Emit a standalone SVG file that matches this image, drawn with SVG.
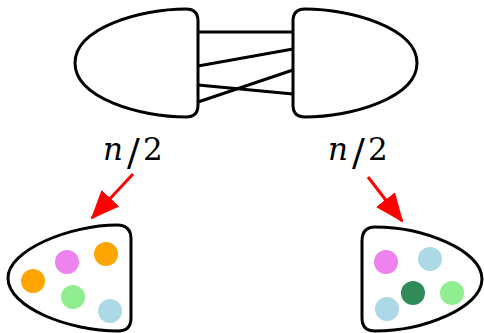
<svg xmlns="http://www.w3.org/2000/svg" width="484" height="333" viewBox="0 0 484 333">
<style>
.blob{fill:#fff;stroke:#000;stroke-width:3;stroke-linejoin:round}
.edge{stroke:#000;stroke-width:3;fill:none}
.arr{stroke:#ff0000;stroke-width:3;fill:none}
.lbl{font-family:'DejaVu Serif',serif;font-size:31px;fill:#000}
.it{font-style:italic}
.sl{font-size:38px}
</style>
<defs>
<marker id="ah" viewBox="0 0 29 24" refX="27" refY="12" markerWidth="29" markerHeight="24" markerUnits="userSpaceOnUse" orient="auto">
<path d="M0 0 L29 12 L0 24 Z" fill="#ff0000"/>
</marker>
</defs>
<g id="top-left">
<path class="blob" d="M198 21 L198 105 Q198 117 186 117 C140 117 75 98 75 63 C75 28 140 9 186 9 Q198 9 198 21 Z"/>
</g>
<g id="top-right">
<path class="blob" d="M293 21 L293 105 Q293 117 305 117 C351 117 417 98 417 63 C417 28 351 9 305 9 Q293 9 293 21 Z"/>
</g>
<g id="connectors">
<line class="edge" x1="198" y1="32" x2="293" y2="32"/>
<line class="edge" x1="198" y1="66" x2="293" y2="49"/>
<line class="edge" x1="198" y1="85" x2="293" y2="94"/>
<line class="edge" x1="198" y1="102" x2="293" y2="70"/>
<line class="arr" x1="133" y1="174" x2="92" y2="218" marker-end="url(#ah)"/>
<line class="arr" x1="368" y1="177" x2="402" y2="221" marker-end="url(#ah)"/>
</g>
<g id="label-left">
<text class="lbl" y="160"><tspan class="it" x="103">n</tspan><tspan class="sl" x="127" dy="5">/</tspan><tspan x="143" dy="-5">2</tspan></text>
</g>
<g id="label-right">
<text class="lbl" y="160"><tspan class="it" x="328">n</tspan><tspan class="sl" x="352" dy="5">/</tspan><tspan x="368" dy="-5">2</tspan></text>
</g>
<g id="bottom-left">
<path class="blob" d="M131 239 L131 318 Q131 331 118 331 C70 331 8 308 8 278 C8 250 70 225 117 225 Q131 225 131 239 Z"/>
<circle cx="33" cy="281" r="12" fill="#FFA500"/>
<circle cx="67" cy="262" r="12" fill="#EE82EE"/>
<circle cx="106" cy="254" r="12" fill="#FFA500"/>
<circle cx="73" cy="297" r="12" fill="#90EE90"/>
<circle cx="110" cy="311" r="12" fill="#ADD8E6"/>
</g>
<g id="bottom-right">
<path class="blob" d="M362 241 L362 318 Q362 331 375 331 C423 331 482 308 482 279 C482 250 423 227 375 227 Q362 227 362 241 Z"/>
<circle cx="386" cy="262" r="12" fill="#EE82EE"/>
<circle cx="430" cy="259" r="12" fill="#ADD8E6"/>
<circle cx="413" cy="293" r="12" fill="#2E8B57"/>
<circle cx="452" cy="293" r="12" fill="#90EE90"/>
<circle cx="387" cy="309" r="12" fill="#ADD8E6"/>
</g>
</svg>
